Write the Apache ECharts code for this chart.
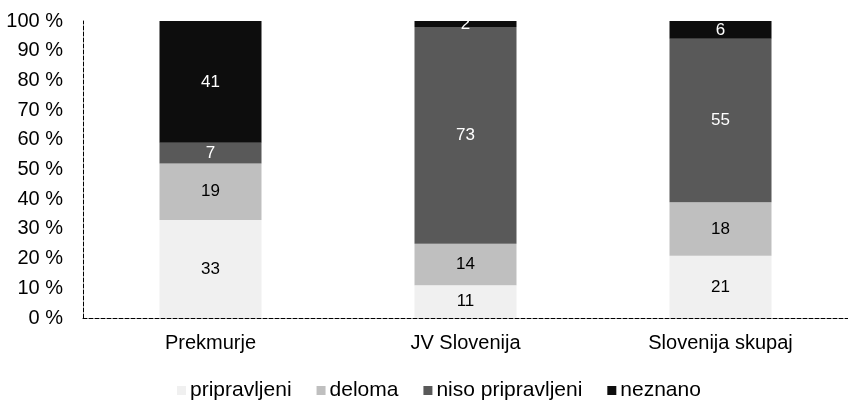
<!DOCTYPE html>
<html>
<head>
<meta charset="utf-8">
<script src="https://cdn.jsdelivr.net/npm/echarts@6/dist/echarts.min.js"></script>
<style>
  html, body { margin: 0; padding: 0; background: #fff; }
  #chart { width: 848px; height: 400px; }
</style>
</head>
<body>
<div id="chart"></div>
<script>
var categories = ['Prekmurje', 'JV Slovenija', 'Slovenija skupaj'];
var pripravljeni = [33, 11, 21];
var deloma = [19, 14, 18];
var nisoPripravljeni = [7, 73, 55];
var neznano = [41, 2, 6];

var font = 'Liberation Sans, Arial, sans-serif';

function makeSeries(name, data, color, labelColor) {
    return {
        name: name,
        type: 'bar',
        stack: 'total',
        barWidth: '40%',
        data: data,
        itemStyle: { color: color },
        label: {
            show: true,
            position: 'inside',
            color: labelColor,
            fontFamily: font,
            fontSize: 17
        }
    };
}

var myChart = echarts.init(document.getElementById('chart'));
var option = {
    animation: false,
    textStyle: { fontFamily: font },
    grid: { left: 83, right: -9, top: 21, bottom: 82, containLabel: false },
    legend: {
        top: 375,
        left: 172,
        itemWidth: 9,
        itemHeight: 9,
        itemGap: 25,
        icon: 'rect',
        textStyle: { fontFamily: font, fontSize: 21, color: '#000', padding: [0, 0, 0, -1] },
        data: ['pripravljeni', 'deloma', 'niso pripravljeni', 'neznano']
    },
    xAxis: {
        type: 'category',
        data: categories,
        axisLine: { show: true, lineStyle: { color: '#000', type: 'dashed', width: 1 } },
        axisTick: { show: false },
        axisLabel: { color: '#000', fontSize: 20, fontFamily: font, margin: 15 }
    },
    yAxis: {
        type: 'value',
        min: 0,
        max: 100,
        interval: 10,
        axisLine: { show: true, lineStyle: { color: '#000', type: 'dashed', width: 1 } },
        axisTick: { show: false },
        splitLine: { show: false },
        axisLabel: {
            color: '#000',
            fontSize: 20,
            fontFamily: font,
            margin: 20,
            formatter: '{value} %'
        }
    },
    series: [
        makeSeries('pripravljeni', pripravljeni, '#f0f0f0', '#000'),
        makeSeries('deloma', deloma, '#bfbfbf', '#000'),
        makeSeries('niso pripravljeni', nisoPripravljeni, '#595959', '#fff'),
        makeSeries('neznano', neznano, '#0d0d0d', '#fff')
    ]
};
myChart.setOption(option);
</script>
</body>
</html>
